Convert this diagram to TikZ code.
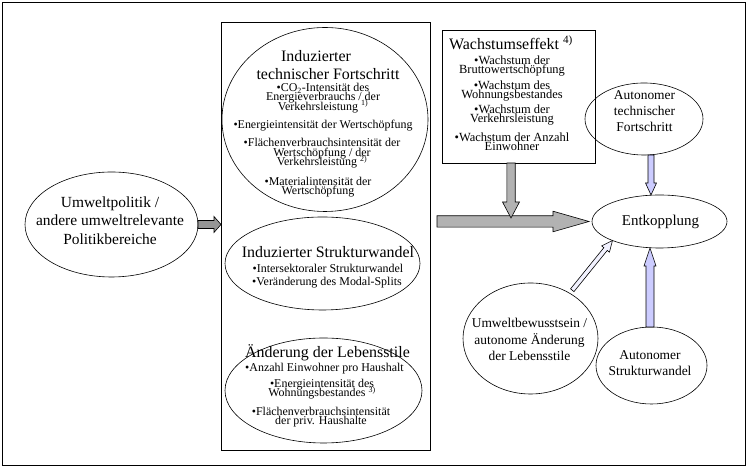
\documentclass[tikz,border=0pt]{standalone}
\usepackage{fontspec}
\setmainfont{Liberation Serif}
\usetikzlibrary{shapes.geometric,calc}
\lineskiplimit=-100pt
\definecolor{arrgray}{RGB}{178,178,178}
\definecolor{lav}{RGB}{204,204,255}
\definecolor{smallgray}{RGB}{150,150,150}
% #1 start, #2 tip, #3 half shaft, #4 half head, #5 head length, #6 style
\newcommand\blockarrow[6]{%
  \coordinate (bah) at ($(#2)!#5!(#1)$);
  \draw[#6] ($(#1)!#3!90:(#2)$) -- ($(bah)!#3!90:(#2)$) -- ($(bah)!#4!90:(#2)$)
    -- (#2) -- ($(bah)!#4!-90:(#2)$) -- ($(bah)!#3!-90:(#2)$) -- ($(#1)!#3!-90:(#2)$) -- cycle;}
\tikzset{
  box/.style={draw, line width=0.8bp, inner sep=0, outer sep=0},
  ell/.style={draw, ellipse, line width=0.6bp, inner sep=0, outer sep=0},
  ttl/.style={font=\fontsize{16}{18.5}\selectfont, align=center, inner sep=0},
  poltxt/.style={font=\fontsize{15.5}{18.5}\selectfont, align=center, inner sep=0},
  itm/.style={font=\fontsize{12}{9.5}\selectfont, align=center, inner sep=0},
  witm/.style={font=\fontsize{12.5}{9.5}\selectfont, align=center, inner sep=0},
  lbl/.style={font=\fontsize{13.5}{16.4}\selectfont, align=center, inner sep=0},
  grayarr/.style={draw, line width=0.6bp, fill=arrgray},
  smallarr/.style={draw, line width=0.6bp, fill=smallgray},
  lavarr/.style={draw, line width=0.6bp, fill=lav},
  thinarr/.style={draw, line width=0.6bp, fill=lav!25},
}
\begin{document}
\begin{tikzpicture}[x=1bp,y=1bp]
\useasboundingbox (0,0) rectangle (748,469);
% frame and boxes
\node[box, minimum width=742.5bp, minimum height=462.5bp] (frame) at (373.75,235.25) {};
\node[box, minimum width=209bp, minimum height=428bp] (mid) at (325.5,233) {};
\node[box, minimum width=153bp, minimum height=133bp] (wach) at (518.5,372.5) {};
% ellipses
\node[ell, minimum width=206bp, minimum height=184bp] (e1) at (325,349.5) {};
\node[ell, minimum width=195bp, minimum height=93bp] (e2) at (322.5,205.5) {};
\node[ell, minimum width=197bp, minimum height=105bp] (e3) at (323.5,78.5) {};
\node[ell, minimum width=173bp, minimum height=105bp] (pol) at (111.5,244.5) {};
\node[ell, minimum width=135bp, minimum height=53bp] (ent) at (659.5,247.5) {};
\node[ell, minimum width=118bp, minimum height=72bp] (atf) at (644,350) {};
\node[ell, minimum width=135bp, minimum height=111bp] (ubw) at (530.5,130.5) {};
\node[ell, minimum width=111bp, minimum height=77bp] (asw) at (651.5,103.5) {};
% texts: ellipse 1
\node[ttl] (e1ta) at (316,413) {Induzierter};
\node[ttl] (e1tb) at (328,395) {technischer Fortschritt};
\node[itm] (e1i1) at (323,371) {•CO\textsubscript{2}-Intensität des\\Energieverbrauchs / der\\Verkehrsleistung \textsuperscript{1)}};
\node[itm] (e1i2) at (323,343) {•Energieintensität der Wertschöpfung};
\node[itm] (e1i3) at (322,315.5) {•Flächenverbrauchsintensität der\\Wertschöpfung / der\\Verkehrsleistung \textsuperscript{2)}};
\node[itm] (e1i4) at (318,282) {•Materialintensität der\\Wertschöpfung};
% ellipse 2
\node[ttl] (e2t) at (328,217) {Induzierter Strukturwandel};
\node[itm] (e2i1) at (328,201) {•Intersektoraler Strukturwandel};
\node[itm] (e2i2) at (327,186) {•Veränderung des Modal-Splits};
% ellipse 3
\node[ttl] (e3t) at (327.5,116) {Änderung der Lebensstile};
\node[itm] (e3i1) at (324.5,100) {•Anzahl Einwohner pro Haushalt};
\node[itm] (e3i2) at (322,80) {•Energieintensität des\\Wohnungsbestandes \textsuperscript{3)}};
\node[itm] (e3i3) at (321,52) {•Flächenverbrauchsintensität\\der priv. Haushalte};
% Wachstumseffekt
\node[ttl] (wt) at (511,426) {Wachstumseffekt \textsuperscript{4)}};
\node[witm] (wi1) at (512,403) {•Wachstum der\\Bruttowertschöpfung};
\node[witm] (wi2) at (512,378) {•Wachstum des\\Wohnungsbestandes};
\node[witm] (wi3) at (512,354) {•Wachstum der\\Verkehrsleistung};
\node[witm] (wi4) at (512,327.5) {•Wachstum der Anzahl\\Einwohner};
% other labels
\node[poltxt] (polt) at (110,248.5) {Umweltpolitik /\\andere umweltrelevante\\Politikbereiche};
\node[font=\fontsize{15}{18}\selectfont, inner sep=0] (entt) at (660.5,247.3) {Entkopplung};
\node[lbl] (atft) at (644.5,358) {Autonomer\\technischer\\Fortschritt};
\node[lbl] (ubwt) at (529.5,129.5) {Umweltbewusstsein /\\autonome Änderung\\der Lebensstile};
\node[lbl] (aswt) at (650,106) {Autonomer\\Strukturwandel};
% connectors
\coordinate (a1e) at (mid.west |- pol.east);
\blockarrow{pol.east}{a1e}{4bp}{8bp}{7bp}{smallarr}
\coordinate (bigs) at ($(mid.east |- ent.west)+(7,0)$);
\coordinate (bige) at ($(ent.west)+(-3,0)$);
\blockarrow{bigs}{bige}{5.7bp}{10.3bp}{36bp}{grayarr}
\coordinate (ds) at ($(wach.south)+(-7.5,0)$);
\coordinate (de) at (511,251);
\blockarrow{ds}{de}{4.2bp}{8.5bp}{16bp}{grayarr}
\coordinate (l1s) at ($(atf.south)+(7,0)$);
\coordinate (l1e) at (l1s |- ent.north);
\blockarrow{l1s}{l1e}{3bp}{5.5bp}{12bp}{lavarr}
\coordinate (l2s) at ($(asw.north)+(-1.5,0)$);
\coordinate (l2e) at (l2s |- ent.south);
\blockarrow{l2s}{l2e}{4bp}{6bp}{18bp}{lavarr}
\coordinate (dgs) at ($(ubw.49)!4bp!(ent.202)$);
\coordinate (dge) at (ent.202);
\blockarrow{dgs}{dge}{2.2bp}{5bp}{11bp}{thinarr}
\end{tikzpicture}
\end{document}
